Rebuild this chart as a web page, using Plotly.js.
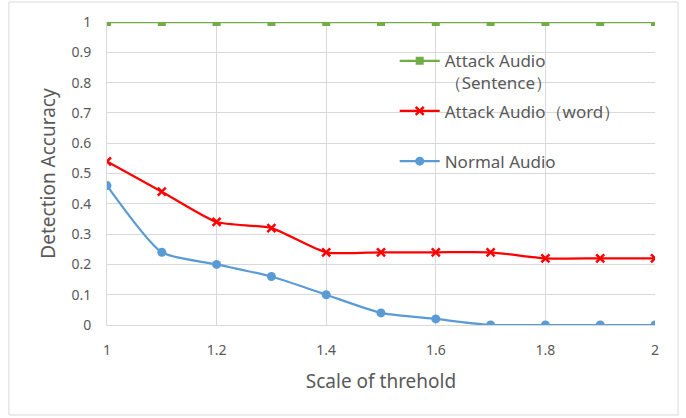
<!DOCTYPE html>
<html><head><meta charset="utf-8">
<script src="https://cdn.plot.ly/plotly-3.0.1.min.js"></script>
<style>html,body{margin:0;padding:0;background:#fff}#c{width:686px;height:418px}</style>
</head><body><div id="c"></div>
<script>
const scales = [1, 1.1, 1.2, 1.3, 1.4, 1.5, 1.6, 1.7, 1.8, 1.9, 2];
const sentence = [1, 1, 1, 1, 1, 1, 1, 1, 1, 1, 1];
const word = [0.54, 0.44, 0.34, 0.32, 0.24, 0.24, 0.24, 0.24, 0.22, 0.22, 0.22];
const normal = [0.46, 0.24, 0.20, 0.16, 0.10, 0.04, 0.02, 0.00, 0.00, 0.00, 0.00];
const names = ['Attack Audio<br>（Sentence）', 'Attack Audio（word）', 'Normal Audio'];
const xticks = [1, 1.2, 1.4, 1.6, 1.8, 2];
const xtickText = ['1', '1.2', '1.4', '1.6', '1.8', '2'];
const yticks = [0, 0.1, 0.2, 0.3, 0.4, 0.5, 0.6, 0.7, 0.8, 0.9, 1];
const ytickText = ['0', '0.1', '0.2', '0.3', '0.4', '0.5', '0.6', '0.7', '0.8', '0.9', '1'];

const font = "Noto Sans, Liberation Sans, sans-serif";
const pad = '<br>\u00a0';
const traces = [
  {x: scales, y: sentence, name: names[0], mode: 'lines+markers', legendgroup: 'a',
   line: {color: '#70AD47', width: 2.25, shape: 'spline', smoothing: 0.6},
   marker: {symbol: 'square', size: 8, color: '#70AD47'}},
  {x: scales, y: word, name: names[1] + pad, mode: 'lines+markers', legendgroup: 'b',
   line: {color: '#FF0000', width: 2.25, shape: 'spline', smoothing: 0.6},
   marker: {symbol: 'x-thin', size: 8, color: '#FF0000', line: {width: 2.5, color: '#FF0000'}}},
  {x: scales, y: normal, name: names[2] + pad, mode: 'lines+markers', legendgroup: 'c',
   line: {color: '#5B9BD5', width: 2.25, shape: 'spline', smoothing: 0.6},
   marker: {symbol: 'circle', size: 9, color: '#5B9BD5'}}
];
const layout = {
  width: 686, height: 418,
  margin: {l: 107, r: 31, t: 22, b: 93},
  paper_bgcolor: '#fff', plot_bgcolor: '#fff',
  font: {family: font, color: '#595959', size: 14},
  showlegend: true,
  legend: {x: 0.525, y: 0.93, xanchor: 'left', yanchor: 'top', bgcolor: 'rgba(0,0,0,0)',
    font: {size: 17, color: '#595959'}, tracegroupgap: 3, itemwidth: 40, valign: 'top'},
  xaxis: {range: [1, 2], tickvals: xticks, ticktext: xtickText, showgrid: true,
    gridcolor: '#D9D9D9', gridwidth: 1, zeroline: false, showline: true, linecolor: '#D9D9D9',
    ticks: '', ticklabelstandoff: 12, tickfont: {size: 14, color: '#595959'},
    title: {text: 'Scale of threhold', font: {size: 19, color: '#595959'}, standoff: 16}},
  yaxis: {range: [0, 1], tickvals: yticks, ticktext: ytickText, showgrid: true,
    gridcolor: '#D9D9D9', gridwidth: 1, zeroline: false, showline: true, linecolor: '#D9D9D9',
    ticks: '', ticklabelstandoff: 12, tickfont: {size: 14, color: '#595959'},
    title: {text: 'Detection Accuracy', font: {size: 19, color: '#595959'}, standoff: 10}},
  shapes: [{type: 'rect', xref: 'paper', yref: 'paper', x0: -0.179, x1: 1.042, y0: -0.297, y1: 1.066,
    line: {color: '#D9D9D9', width: 1}, layer: 'below'}]
};
Plotly.newPlot('c', traces, layout, {displayModeBar: false, staticPlot: true});
</script></body></html>
